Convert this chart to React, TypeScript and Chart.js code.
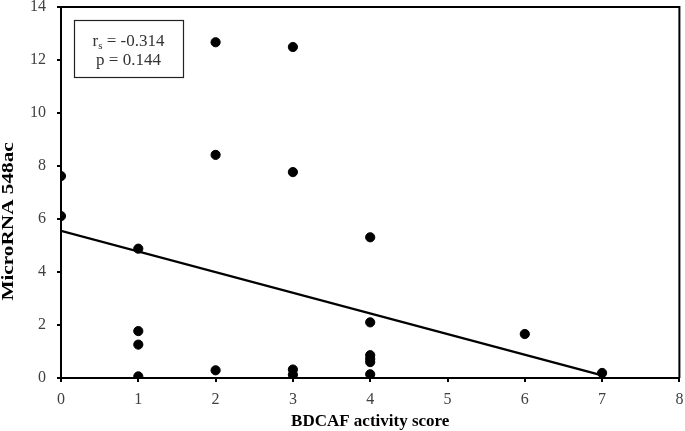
import React, { useEffect, useRef } from "react";
import { Chart, registerables } from "chart.js";

Chart.register(...registerables);

// BDCAF activity score (x) vs MicroRNA 548ac (y)
const scoreX: number[] = [0, 0, 1, 1, 1, 1, 2, 2, 2, 3, 3, 3, 3, 4, 4, 4, 4, 4, 4, 6, 7];
const microRNA: number[] = [7.62, 6.11, 4.88, 1.77, 1.26, 0.06, 12.67, 8.42, 0.29, 12.49, 7.77, 0.32, 0.12, 5.31, 2.1, 0.86, 0.72, 0.6, 0.14, 1.66, 0.19];

// regression line end points
const trendX: number[] = [0, 7];
const trendY: number[] = [5.55, 0.1];

const xTitle = "BDCAF activity score";
const yTitle = "MicroRNA 548ac";
const statR = "-0.314";
const statP = "0.144";

const FONT = "'Liberation Serif', 'Times New Roman', serif";

const framePlugin = {
  id: "frameAndStats",
  afterDraw(chart: any) {
    const { ctx, chartArea } = chart;
    const { left, right, top, bottom } = chartArea;
    ctx.save();
    // top and right frame
    ctx.strokeStyle = "#000";
    ctx.lineWidth = 2;
    ctx.beginPath();
    ctx.moveTo(left, top);
    ctx.lineTo(right, top);
    ctx.lineTo(right, bottom);
    ctx.stroke();

    // y axis title (stretched along its length like the original)
    ctx.save();
    ctx.translate(13.3, top + (bottom - top) * 0.578);
    ctx.rotate(-Math.PI / 2);
    ctx.scale(1.25, 1);
    ctx.font = `bold 17px ${FONT}`;
    ctx.fillStyle = "#000";
    ctx.textAlign = "center";
    ctx.textBaseline = "alphabetic";
    ctx.fillText(yTitle, 0, 0);
    ctx.restore();

    // stats box
    const bx = left + 13;
    const by = top + 13;
    const bw = 109;
    const bh = 57;
    ctx.lineWidth = 1.2;
    ctx.strokeStyle = "#222";
    ctx.strokeRect(bx + 0.5, by + 0.5, bw, bh);

    const cx = bx + bw / 2;
    ctx.fillStyle = "#333";
    ctx.textBaseline = "alphabetic";
    ctx.textAlign = "left";
    const mainFont = `17px ${FONT}`;
    const subFont = `11px ${FONT}`;
    ctx.font = mainFont;
    const wr = ctx.measureText("r").width;
    const rest = " = " + statR;
    const wRest = ctx.measureText(rest).width;
    ctx.font = subFont;
    const ws = ctx.measureText("s").width;
    const total = wr + ws + wRest;
    let x = cx - total / 2;
    const y1 = by + 25.5;
    ctx.font = mainFont;
    ctx.fillText("r", x, y1);
    x += wr;
    ctx.font = subFont;
    ctx.fillText("s", x, y1 + 3);
    x += ws;
    ctx.font = mainFont;
    ctx.fillText(rest, x, y1);

    ctx.textAlign = "center";
    ctx.fillText("p = " + statP, cx, by + 45);
    ctx.restore();
  },
};

export default function App() {
  const canvasRef = useRef<HTMLCanvasElement | null>(null);

  useEffect(() => {
    const canvas = canvasRef.current;
    if (!canvas) return;
    const chart = new Chart(canvas, {
      type: "scatter",
      data: {
        datasets: [
          {
            label: "points",
            data: scoreX.map((x, i) => ({ x, y: microRNA[i] })),
            backgroundColor: "#000",
            borderColor: "#000",
            pointRadius: 4.6,
            pointHoverRadius: 4.6,
            order: 1,
          },
          {
            type: "line",
            label: "trend",
            data: trendX.map((x, i) => ({ x, y: trendY[i] })),
            borderColor: "#000",
            borderWidth: 2.3,
            pointRadius: 0,
            fill: false,
            showLine: true,
            order: 2,
          } as any,
        ],
      },
      options: {
        responsive: false,
        animation: false,
        devicePixelRatio: 1,
        layout: { padding: { top: 7, right: 4, left: 0, bottom: 0 } },
        plugins: {
          legend: { display: false },
          tooltip: { enabled: false },
        },
        scales: {
          x: {
            type: "linear",
            min: 0,
            max: 8,
            ticks: {
              stepSize: 1,
              color: "#404040",
              font: { family: FONT, size: 16 },
              padding: 8,
              maxRotation: 0,
            },
            grid: {
              display: true,
              drawOnChartArea: false,
              drawTicks: true,
              tickLength: 4,
              color: "#000",
              lineWidth: 2,
            },
            border: { display: true, color: "#000", width: 2 },
            title: {
              display: true,
              text: xTitle,
              color: "#000",
              font: { family: FONT, size: 17, weight: "bold" },
              padding: { top: 0, bottom: -1 },
            },
            afterFit(scale: any) {
              scale.height = 53;
              scale.paddingLeft = 0;
              scale.paddingRight = 0;
            },
          },
          y: {
            type: "linear",
            min: 0,
            max: 14,
            ticks: {
              stepSize: 2,
              color: "#404040",
              font: { family: FONT, size: 16 },
              padding: 11,
            },
            grid: {
              display: true,
              drawOnChartArea: false,
              drawTicks: true,
              tickLength: 4,
              color: "#000",
              lineWidth: 2,
            },
            border: { display: true, color: "#000", width: 2 },
            title: { display: false },
            afterFit(scale: any) {
              scale.width = 61;
              scale.paddingTop = 0;
              scale.paddingBottom = 0;
            },
          },
        },
      },
      plugins: [framePlugin],
    });
    return () => chart.destroy();
  }, []);

  return (
    <div style={{ position: "fixed", left: 0, top: 0, width: 685, height: 431, background: "#fff" }}>
      <canvas ref={canvasRef} width={685} height={431} style={{ display: "block" }} />
    </div>
  );
}
